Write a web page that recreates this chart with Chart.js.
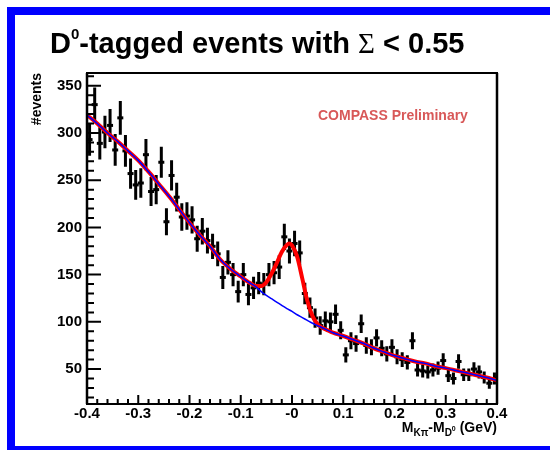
<!DOCTYPE html>
<html><head><meta charset="utf-8">
<script src="https://cdn.jsdelivr.net/npm/chart.js@4.4.1/dist/chart.umd.min.js"></script>
<style>
html,body{margin:0;padding:0;width:550px;height:450px;overflow:hidden;background:#fff;}
#frame{position:absolute;left:7px;top:7px;width:600px;height:431px;border:8px solid #0000ff;border-right:none;}
canvas{position:absolute;left:0;top:0;}
.txt{position:absolute;font-family:'Liberation Sans',Arial,Helvetica,sans-serif;font-weight:bold;white-space:nowrap;}
#title{left:50px;top:29px;font-size:29px;line-height:29px;color:#000;}
#prelim{left:318px;top:108px;font-size:14px;line-height:14px;color:#d85858;}
#xtitle{right:53px;top:420px;font-size:14px;line-height:14px;color:#000;}
</style></head><body>
<div id="frame"></div>
<canvas id="c" width="550" height="450"></canvas>
<div class="txt" id="title">D<span style="font-size:15px;position:relative;top:-14px">0</span>-tagged events with <span style="font-family:'Liberation Serif',serif;font-weight:normal">Σ</span> &lt; 0.55</div>
<div class="txt" id="prelim">COMPASS Preliminary</div>
<div class="txt" id="xtitle">M<span style="font-size:10px;position:relative;top:4px">Kπ</span>-M<span style="font-size:10px;position:relative;top:4px">D<span style="font-size:7px;position:relative;top:-5px">0</span></span> (GeV)</div>
<script>
// ---- data ----
const binCenters = [-0.395,-0.385,-0.375,-0.365,-0.355,-0.345,-0.335,-0.325,-0.315,-0.305,
  -0.295,-0.285,-0.275,-0.265,-0.255,-0.245,-0.235,-0.225,-0.215,-0.205,
  -0.195,-0.185,-0.175,-0.165,-0.155,-0.145,-0.135,-0.125,-0.115,-0.105,
  -0.095,-0.085,-0.075,-0.065,-0.055,-0.045,-0.035,-0.025,-0.015,-0.005,
  0.005,0.015,0.025,0.035,0.045,0.055,0.065,0.075,0.085,0.095,
  0.105,0.115,0.125,0.135,0.145,0.155,0.165,0.175,0.185,0.195,
  0.205,0.215,0.225,0.235,0.245,0.255,0.265,0.275,0.285,0.295,
  0.305,0.315,0.325,0.335,0.345,0.355,0.365,0.375,0.385,0.395];
const counts = [293,330,289,301,308,282,316,281,257,245,
  247,277,238,240,269,206,255,232,211,212,
  208,188,196,186,180,172,147,163,150,132,
  150,129,136,141,140,150,152,158,190,175,
  183,173,130,115,104,96,101,100,108,91,
  65,80,77,98,75,73,83,72,66,73,
  63,60,57,80,49,48,47,49,51,59,
  43,40,58,44,44,50,47,41,35,40];
const errors = [17.1,18.2,17.0,17.3,17.5,16.8,17.8,16.8,16.0,15.7,
  15.7,16.6,15.4,15.5,16.4,14.4,16.0,15.2,14.5,14.6,
  14.4,13.7,14.0,13.6,13.4,13.1,12.1,12.8,12.2,11.5,
  12.2,11.4,11.7,11.9,11.8,12.2,12.3,12.6,13.8,13.2,
  13.5,13.2,11.4,10.7,10.2,9.8,10.0,10.0,10.4,9.5,
  8.1,8.9,8.8,9.9,8.7,8.5,9.1,8.5,8.1,8.5,
  7.9,7.7,7.5,8.9,7.0,6.9,6.9,7.0,7.1,7.7,
  6.6,6.3,7.6,6.6,6.6,7.1,6.9,6.4,5.9,6.3];
const fitX = [-0.4,-0.38,-0.36,-0.34,-0.32,-0.3,-0.28,-0.26,-0.24,-0.22,-0.2,-0.18,-0.16,-0.14,-0.12,-0.1,
  -0.09,-0.08,-0.07,-0.06,-0.05,-0.04,-0.03,-0.02,-0.01,-0.005,0,0.01,0.02,0.03,0.04,0.05,0.06,0.07,0.08,
  0.1,0.12,0.14,0.16,0.18,0.2,0.22,0.24,0.26,0.28,0.3,0.32,0.34,0.36,0.38,0.4];
const fitTotal = [319,310,300,291,281,271,259,246,233,219,205,192,180,166,156,148,
  144,140.5,138,138,142,151,162,174,181.5,183,181,169,146,122,106,97.5,93.5,91,88.5,
  85,81,77,72,68,64,61,58,56,53,51,48.5,46,43.5,41,38];
const bgX = [-0.4,-0.38,-0.36,-0.34,-0.32,-0.3,-0.28,-0.26,-0.24,-0.22,-0.2,-0.18,-0.16,-0.14,-0.12,-0.1,
  -0.09,-0.08,-0.07,-0.06,-0.05,-0.04,-0.03,-0.02,-0.01,0,0.01,0.02,0.03,0.04,0.05,0.06,0.07,0.08,
  0.1,0.12,0.14,0.16,0.18,0.2,0.22,0.24,0.26,0.28,0.3,0.32,0.34,0.36,0.38,0.4];
const bgValues = [319,310,300,291,281,271,259,246,233,219,205,192,180,166,156,148,
  144,140.5,137,132,128,124.5,121,117.5,114,111,107.5,104.5,101.5,98.5,96,93.5,91,88.5,
  85,81,77,72,68,64,61,58,56,53,51,48.5,46,43.5,41,38];
const xTickValues = [-0.4,-0.3,-0.2,-0.1,0,0.1,0.2,0.3,0.4];
const xTickLabels = ['-0.4','-0.3','-0.2','-0.1','-0','0.1','0.2','0.3','0.4'];
const yTickValues = [50,100,150,200,250,300,350];
const yTickLabels = ['50','100','150','200','250','300','350'];

const FONT = "'Liberation Sans', Arial, Helvetica, sans-serif";

const errorBarPlugin = {
  id: 'errbars',
  beforeDatasetsDraw(chart) {
    const {ctx, chartArea: a} = chart;
    const xs = chart.scales.x, ys = chart.scales.y;
    ctx.save();
    ctx.beginPath(); ctx.rect(a.left, a.top, a.right - a.left, a.bottom - a.top); ctx.clip();
    ctx.strokeStyle = '#000'; ctx.lineWidth = 3; ctx.lineCap = 'butt';
    ctx.beginPath();
    binCenters.forEach((c, i) => {
      const px = xs.getPixelForValue(c);
      ctx.moveTo(px, ys.getPixelForValue(counts[i] - errors[i]));
      ctx.lineTo(px, ys.getPixelForValue(counts[i] + errors[i]));
    });
    ctx.stroke();
    ctx.restore();
  }
};

const framePlugin = {
  id: 'rootframe',
  afterDatasetsDraw(chart) {
    const {ctx, chartArea: a} = chart;
    const xs = chart.scales.x, ys = chart.scales.y;
    ctx.save();
    ctx.strokeStyle = '#000';
    ctx.lineWidth = 2;
    ctx.beginPath();
    for (let v = 20; v <= 360; v += 10) {
      const py = ys.getPixelForValue(v);
      const len = (v % 50 === 0) ? 14 : 7;
      ctx.moveTo(a.left, py); ctx.lineTo(a.left + len, py);
    }
    for (let k = -20; k <= 20; k++) {
      const v = k * 0.02;
      const px = xs.getPixelForValue(v);
      const len = (k % 5 === 0) ? 9 : 5;
      ctx.moveTo(px, a.bottom); ctx.lineTo(px, a.bottom - len);
    }
    ctx.stroke();
    ctx.lineWidth = 2;
    ctx.strokeRect(a.left, a.top, a.right - a.left, a.bottom - a.top);
    ctx.lineWidth = 2.5;
    ctx.beginPath();
    ctx.moveTo(a.left, a.top); ctx.lineTo(a.left, a.bottom);
    ctx.moveTo(a.right, a.top); ctx.lineTo(a.right, a.bottom);
    ctx.stroke();
    ctx.restore();
  }
};

new Chart(document.getElementById('c'), {
  type: 'scatter',
  data: {
    datasets: [
      {
        label: 'data',
        data: binCenters.map((x, i) => ({x: x, y: counts[i]})),
        pointStyle: 'line', pointRadius: 3, pointBorderWidth: 3,
        borderColor: '#000', backgroundColor: '#000', showLine: false, order: 3
      },
      {
        label: 'fit',
        data: fitX.map((x, i) => ({x: x, y: fitTotal[i]})),
        showLine: true, borderColor: '#ff0000', borderWidth: 4, pointRadius: 0,
        cubicInterpolationMode: 'monotone', order: 2
      },
      {
        label: 'background',
        data: bgX.map((x, i) => ({x: x, y: bgValues[i]})),
        showLine: true, borderColor: '#0000ff', borderWidth: 1.5, pointRadius: 0,
        cubicInterpolationMode: 'monotone', order: 1
      }
    ]
  },
  options: {
    responsive: false, animation: false, devicePixelRatio: 1,
    layout: {padding: {left: 0, right: 53, top: 73, bottom: 0}},
    plugins: {legend: {display: false}, tooltip: {enabled: false}, title: {display: false}},
    scales: {
      x: {
        type: 'linear', min: -0.4, max: 0.4,
        afterBuildTicks: s => { s.ticks = xTickValues.map(v => ({value: v})); },
        afterFit: s => { s.height = 46; },
        ticks: {
          callback: (v, i) => xTickLabels[i],
          font: {family: FONT, weight: 'bold', size: 15}, color: '#000',
          padding: 1, maxRotation: 0, minRotation: 0, autoSkip: false
        },
        grid: {display: false, drawTicks: false},
        border: {display: false}
      },
      y: {
        type: 'linear', min: 13, max: 363.5,
        afterBuildTicks: s => { s.ticks = yTickValues.map(v => ({value: v})); },
        afterFit: s => { s.width = 87; },
        ticks: {
          callback: (v, i) => yTickLabels[i],
          font: {family: FONT, weight: 'bold', size: 15}, color: '#000',
          padding: 5, autoSkip: false
        },
        title: {
          display: true, text: '#events', align: 'end', color: '#000',
          font: {family: FONT, weight: 'bold', size: 14},
          padding: {top: 29, bottom: 0}
        },
        grid: {display: false, drawTicks: false},
        border: {display: false}
      }
    }
  },
  plugins: [errorBarPlugin, framePlugin]
});
</script>
</body></html>
